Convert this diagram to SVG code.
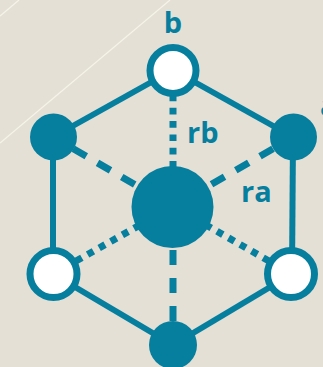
<svg xmlns="http://www.w3.org/2000/svg" width="323" height="367" viewBox="0 0 323 367">
  <style>
    .edge { stroke: #067f9f; stroke-width: 6; fill: none; }
    .dash { stroke: #067f9f; stroke-width: 7; fill: none; stroke-dasharray: 15 13; }
    .dot { stroke: #067f9f; stroke-width: 7; fill: none; stroke-dasharray: 6.7 6.6; }
    .filled { fill: #067f9f; }
    .open { fill: #ffffff; stroke: #067f9f; stroke-width: 7; }
    .lbl { font-family: "Open Sans", "DejaVu Sans", sans-serif; font-weight: bold; font-size: 29px; fill: #067f9f; }
  </style>
  <rect width="323" height="367" fill="#e4e0d6"/>
  <!-- faint background strokes -->
  <line x1="0" y1="16" x2="19" y2="0" stroke="#f6f3ea" stroke-width="1.2"/>
  <line x1="0" y1="143" x2="170" y2="0" stroke="#f6f3ea" stroke-width="1.2"/>

  <g id="connectors">
    <!-- hexagon rim -->
    <line class="edge" x1="173" y1="70" x2="53" y2="137"/>
    <line class="edge" x1="173" y1="70" x2="293" y2="137"/>
    <line class="edge" x1="53" y1="137" x2="53" y2="274"/>
    <line class="edge" x1="293" y1="137" x2="292" y2="274"/>
    <line class="edge" x1="53" y1="274" x2="173" y2="345"/>
    <line class="edge" x1="292" y1="274" x2="173" y2="345"/>
    <!-- spokes from the centre -->
    <line class="dot" x1="173" y1="94.5" x2="173" y2="170"/>
    <line class="dash" x1="73.3" y1="148.8" x2="140" y2="187.5"/>
    <line class="dash" x1="273" y1="148.8" x2="206" y2="187.5"/>
    <line class="dash" x1="173" y1="250" x2="173" y2="322"/>
    <line class="dot" x1="76" y1="261" x2="140" y2="225"/>
    <line class="dot" x1="269" y1="261" x2="206" y2="225"/>
  </g>

  <g id="node-b"><circle class="open" cx="173" cy="70.5" r="23"/></g>
  <g id="node-ul"><circle class="filled" cx="53.5" cy="137" r="23.5"/></g>
  <g id="node-ur"><circle class="filled" cx="293.5" cy="137" r="23.5"/></g>
  <g id="node-center"><circle class="filled" cx="172.5" cy="207" r="41"/></g>
  <g id="node-ll"><circle class="open" cx="53.5" cy="274" r="23.5"/></g>
  <g id="node-lr"><circle class="open" cx="291" cy="274" r="23.5"/></g>
  <g id="node-bottom"><circle class="filled" cx="173" cy="345" r="24"/></g>

  <g id="labels">
    <text class="lbl" x="173" y="33" text-anchor="middle">b</text>
    <text class="lbl" x="187" y="143">rb</text>
    <text class="lbl" x="241" y="202">ra</text>
    <text class="lbl" x="320" y="116">a</text>
  </g>
</svg>
